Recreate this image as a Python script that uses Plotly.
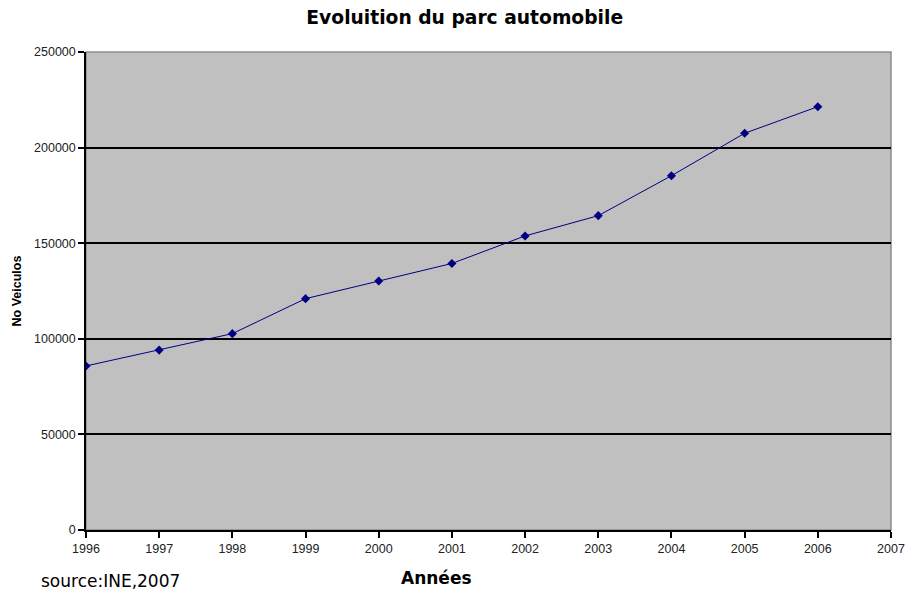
import plotly.graph_objects as go

years = [1996, 1997, 1998, 1999, 2000, 2001, 2002, 2003, 2004, 2005, 2006]
vehicles = [85800, 94100, 102700, 121000, 130200, 139400, 153800, 164400, 185300, 207500, 221400]
x_ticks = list(range(1996, 2008))
y_ticks = [0, 50000, 100000, 150000, 200000, 250000]

fig = go.Figure()
fig.add_trace(go.Scatter(
    x=years, y=vehicles, mode="lines+markers",
    line=dict(color="#000080", width=1),
    marker=dict(symbol="diamond", size=7, color="#000080"),
    showlegend=False,
))

fig.update_layout(
    width=905, height=594,
    margin=dict(l=86, r=14, t=52, b=64, autoexpand=False),
    paper_bgcolor="white",
    plot_bgcolor="#c0c0c0",
    title=dict(text="<b>Evoluition du parc automobile</b>", x=0.5135, xanchor="center",
               y=0.970, yanchor="middle",
               font=dict(family="DejaVu Sans", size=18.7, color="black")),
    shapes=[dict(type="rect", xref="x domain", yref="y domain", x0=0, x1=1, y0=0, y1=1,
                 line=dict(color="#8c8c8c", width=1.5), layer="below")],
    annotations=[
        dict(text="source:INE,2007", xref="paper", yref="paper", x=-0.059, y=-0.107,
             xanchor="left", yanchor="middle", showarrow=False,
             font=dict(family="DejaVu Sans", size=17, color="black")),
        dict(text="<b>Années</b>", xref="paper", yref="paper", x=0.435, y=-0.100,
             xanchor="center", yanchor="middle", showarrow=False,
             font=dict(family="DejaVu Sans", size=17, color="black")),
    ],
)

fig.update_xaxes(
    range=[1996, 2007], tickvals=x_ticks, ticktext=[str(v) for v in x_ticks],
    showgrid=False, zeroline=False, automargin=False,
    showline=True, linecolor="black", linewidth=1.5,
    ticks="outside", ticklen=6, tickcolor="black", tickwidth=1.5,
    tickfont=dict(family="Liberation Sans", size=12.5, color="#222"),
)
fig.update_yaxes(
    range=[0, 250000], tickvals=y_ticks, ticktext=[str(v) for v in y_ticks],
    showgrid=True, gridcolor="black", gridwidth=1.6, zeroline=False, automargin=False,
    showline=True, linecolor="black", linewidth=1.5,
    ticks="outside", ticklen=6, tickcolor="black", tickwidth=1.5,
    tickfont=dict(family="Liberation Sans", size=12.5, color="#222"),
    title=dict(text="<b>No Veiculos</b>", standoff=10,
               font=dict(family="Liberation Sans", size=12.5, color="black")),
)

fig.write_html("out.html")
